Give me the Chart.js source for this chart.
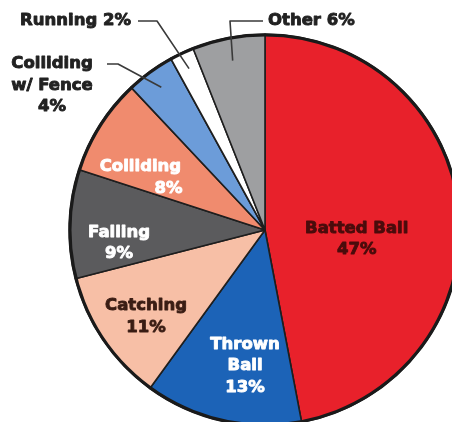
<!DOCTYPE html>
<html lang="en">
<head>
    <meta charset="UTF-8">
    <title>Outfield injuries by cause</title>
    <script src="https://cdn.jsdelivr.net/npm/chart.js@4.4.0/dist/chart.umd.min.js"></script>
    <style>
        html, body {
            margin: 0;
            padding: 0;
            background: #ffffff;
            overflow: hidden;
        }
        #wrap {
            position: relative;
            width: 452px;
            height: 422px;
            overflow: hidden;
        }
        canvas {
            position: absolute;
            left: 0;
            top: 0;
        }
    </style>
</head>
<body>
<div id="wrap">
    <canvas id="pie" width="530" height="460"></canvas>
</div>

<script>
// Data (clockwise from 12 o'clock)
const categories = ['Batted Ball', 'Thrown Ball', 'Catching', 'Falling', 'Colliding', 'Colliding w/ Fence', 'Running', 'Other'];
const shares = [47, 13, 11, 9, 8, 4, 2, 6];
const labelLines = [
    ['Batted Ball', '47%'],
    ['Thrown', 'Ball', '13%'],
    ['Catching', '11%'],
    ['Falling', '9%'],
    ['Colliding', '8%'],
    ['Colliding', 'w/ Fence', '4%'],
    ['Running 2%'],
    ['Other 6%']
];

const sliceColors = ['#e8212b', '#1c63b7', '#f7bfa6', '#5b5b5d', '#f08b6e', '#6c9cd9', '#ffffff', '#9e9fa1'];
const textColors = ['#4a0c0c', '#ffffff', '#3a1d14', '#ffffff', '#ffffff', '#222222', '#222222', '#222222'];

// where each label sits: inside labels use a fraction of the radius along the
// slice's middle angle, outside ones get a leader line (elbow + text anchor)
const placement = [
    { f: 0.47, dx: 0, dy: 18 },
    { f: 0.70, dx: 10, dy: 2 },
    { f: 0.74, dx: 1, dy: 5 },
    { f: 0.75, dx: 1, dy: 18 },
    { f: 0.65, dx: -7, dy: 16, lineDx: [-10, 18] },
    { f: 0.90, callout: { elbow: [118, 64], end: [107, 64], text: [52, 64], align: 'center' } },
    { f: 0.91, callout: { elbow: [157, 21], end: [138, 21], text: [131, 21], align: 'right' } },
    { f: 0.88, callout: { elbow: [230, 21], end: [263, 21], text: [268, 21], align: 'left' } }
];

const FONT = 'bold 16.5px "DejaVu Sans", sans-serif';
const LINE_H = 21.5;

const sliceLabels = {
    id: 'sliceLabels',
    afterDatasetsDraw(chart) {
        const ctx = chart.ctx;
        const arcs = chart.getDatasetMeta(0).data;
        ctx.save();
        ctx.font = FONT;
        ctx.textBaseline = 'middle';
        ctx.lineJoin = 'round';
        arcs.forEach((arc, i) => {
            const p = placement[i];
            const mid = (arc.startAngle + arc.endAngle) / 2;
            const r = arc.outerRadius * p.f;
            const ax = arc.x + Math.cos(mid) * r;
            const ay = arc.y + Math.sin(mid) * r;
            const lines = labelLines[i];

            // heavy poster-style lettering: fill plus a thin stroke of the same colour
            const put = (t, x, y) => {
                ctx.fillStyle = textColors[i];
                ctx.strokeStyle = textColors[i];
                ctx.lineWidth = 0.9;
                ctx.fillText(t, x, y);
                ctx.strokeText(t, x, y);
            };

            if (p.callout) {
                const c = p.callout;
                ctx.strokeStyle = '#3a3a3a';
                ctx.lineWidth = 1.6;
                ctx.beginPath();
                ctx.moveTo(ax, ay);
                ctx.lineTo(c.elbow[0], c.elbow[1]);
                ctx.lineTo(c.end[0], c.end[1]);
                ctx.stroke();
                ctx.textAlign = c.align;
                lines.forEach((t, k) => put(t, c.text[0], c.text[1] + k * LINE_H));
                return;
            }

            ctx.textAlign = 'center';
            const cx = ax + (p.dx || 0);
            const cy = ay + (p.dy || 0);
            const top = cy - (lines.length - 1) * LINE_H / 2;
            lines.forEach((t, k) => {
                const ldx = p.lineDx ? p.lineDx[k] : 0;
                put(t, cx + ldx, top + k * LINE_H);
            });
        });
        ctx.restore();
    }
};

// outer rim drawn a little heavier than the slice separators
const rim = {
    id: 'rim',
    afterDatasetsDraw(chart) {
        const arc = chart.getDatasetMeta(0).data[0];
        const ctx = chart.ctx;
        ctx.save();
        ctx.strokeStyle = '#1a1a1a';
        ctx.lineWidth = 3;
        ctx.beginPath();
        ctx.arc(arc.x, arc.y, arc.outerRadius - 1, 0, Math.PI * 2);
        ctx.stroke();
        ctx.restore();
    }
};

new Chart(document.getElementById('pie'), {
    type: 'pie',
    data: {
        labels: categories,
        datasets: [{
            data: shares,
            backgroundColor: sliceColors,
            borderColor: '#1e1e1e',
            borderWidth: 1.6
        }]
    },
    options: {
        responsive: false,
        animation: false,
        radius: 196,
        layout: { padding: 0 },
        plugins: {
            legend: { display: false },
            tooltip: { enabled: false }
        }
    },
    plugins: [rim, sliceLabels]
});
</script>
</body>
</html>
